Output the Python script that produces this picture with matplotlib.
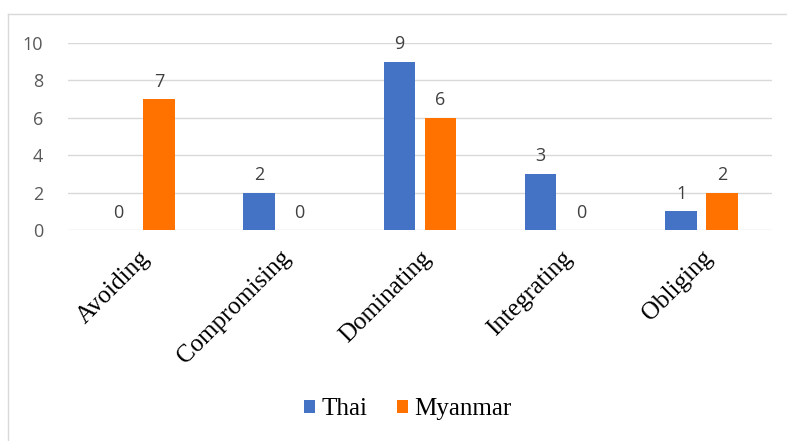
import matplotlib.pyplot as plt
import numpy as np
from matplotlib.lines import Line2D

categories = ["Avoiding", "Compromising", "Dominating", "Integrating", "Obliging"]
thai = [0, 2, 9, 3, 1]
myanmar = [7, 0, 6, 0, 2]
yticks = [0, 2, 4, 6, 8, 10]

blue = "#4472C4"
orange = "#FF7200"

fig = plt.figure(figsize=(7.87, 4.41), dpi=100)
ax = fig.add_axes([0.0864, 0.4785, 0.8946, 0.424])

x = np.arange(len(categories))
w = 0.225
off = 0.145
b1 = ax.bar(x - off, thai, w, color=blue, label="Thai", zorder=3)
b2 = ax.bar(x + off, myanmar, w, color=orange, label="Myanmar", zorder=3)

for bars in (b1, b2):
    for rect in bars:
        h = rect.get_height()
        ax.text(rect.get_x() + rect.get_width() / 2, h + 0.45, f"{int(h)}",
                ha="center", va="bottom", fontsize=13, color="#404040",
                family="Open Sans")

ax.set_xlim(-0.5, len(categories) - 0.5)
ax.set_ylim(0, 10)
ax.set_yticks(yticks)
ax.set_yticklabels([str(v) for v in yticks], fontsize=13, color="#595959",
                   family="Open Sans")
ax.yaxis.grid(True, color="#d9d9d9", lw=1, zorder=0)
ax.tick_params(length=0)
ax.tick_params(axis="y", pad=18)
for s in ax.spines.values():
    s.set_visible(False)

ax.set_xticks(x)
ax.set_xticklabels(categories, rotation=45, ha="right", rotation_mode="anchor",
                   fontsize=18, family="Liberation Serif", color="#000000")
ax.tick_params(axis="x", pad=12)

fig.legend(handles=[b1, b2], labels=["Thai", "Myanmar"], loc="center",
           bbox_to_anchor=(0.518, 0.072), ncol=2, frameon=False,
           prop={"family": "Liberation Serif", "size": 18},
           handlelength=0.45, handleheight=0.45, handletextpad=0.25,
           columnspacing=1.2)

fig.add_artist(Line2D([8 / 787, 1], [1 - 14 / 441, 1 - 14 / 441],
                      transform=fig.transFigure, color="#d9d9d9", lw=1))
fig.add_artist(Line2D([8 / 787, 8 / 787], [0, 1 - 14 / 441],
                      transform=fig.transFigure, color="#d9d9d9", lw=1))

fig.savefig("out.png", dpi=100)
